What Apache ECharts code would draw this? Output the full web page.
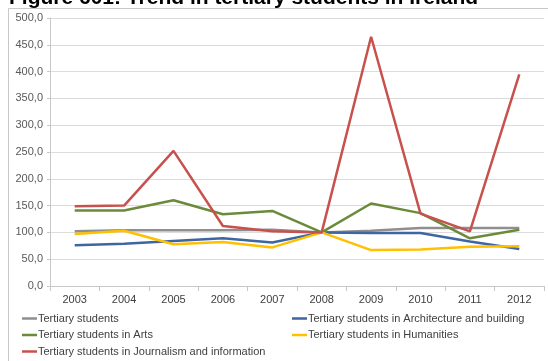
<!DOCTYPE html>
<html>
<head>
<meta charset="utf-8">
<script src="https://cdn.jsdelivr.net/npm/echarts@6/dist/echarts.min.js"></script>
<style>html,body{margin:0;padding:0;background:#fff}#c{width:548px;height:361px}</style>
</head>
<body>
<div id="c"></div>
<script>
const years = ['2003','2004','2005','2006','2007','2008','2009','2010','2011','2012'];
const yTicks = [0,50,100,150,200,250,300,350,400,450,500];
const tertiary = [102,104,104,104,105,100,103,108,108,108];
const architecture = [76,79,84,89,81,100,99,99,83,69];
const arts = [141,141,160,134,140,100,154,136,89,105];
const humanities = [97,103,78,82,72,100,67,68,73,74];
const journalism = [149,150,252,112,102,100,465,135,102,395];
const names = ['Tertiary students','Tertiary students in Architecture and building','Tertiary students in Arts','Tertiary students in Humanities','Tertiary students in Journalism and information'];
const colors = ['#8f8f8f','#3d66a3','#6b8a3a','#ffc000','#c8504d'];
const values = [tertiary, architecture, arts, humanities, journalism];

const legendPos = [[22,312],[292,312],[22,328.5],[292,328.5],[22,345]];
const chart = echarts.init(document.getElementById('c'));
chart.setOption({
  animation:false,
  backgroundColor:'#fff',
  graphic:[
    {type:'rect', shape:{x:8.5,y:8.5,width:600,height:400}, style:{fill:'none',stroke:'#c8c8c8',lineWidth:1}, z:-10},
    {type:'text', left:9, top:-12.5, style:{text:'Figure 601: Trend in tertiary students in Ireland', font:'bold 21px "Liberation Sans", Arial, sans-serif', fill:'#000'}}
  ],
  legend: names.map((n,i)=>({
    data:[n], left:legendPos[i][0], top:legendPos[i][1], padding:0,
    icon:'rect', itemWidth:15, itemHeight:2.5,
    textStyle:{fontSize:11, fontFamily:'"Liberation Sans", Arial, sans-serif', color:'#404040', lineHeight:13, padding:[0,0,0,-4]},
    selectedMode:false
  })),
  grid:{left:50, right:4, top:18, bottom:75, containLabel:false},
  xAxis:{
    type:'category', data:years, boundaryGap:true,
    axisLine:{lineStyle:{color:'#c8c8c8'}},
    axisTick:{show:true, length:5, lineStyle:{color:'#c8c8c8'}},
    axisLabel:{fontSize:11, fontFamily:'"Liberation Sans", Arial, sans-serif', color:'#404040', margin:8}
  },
  yAxis:{
    type:'value', min:yTicks[0], max:yTicks[yTicks.length-1], interval:50,
    axisLine:{show:true, lineStyle:{color:'#c8c8c8'}},
    axisTick:{show:true, length:3, lineStyle:{color:'#c8c8c8'}},
    splitLine:{lineStyle:{color:'#dcdcdc'}},
    axisLabel:{fontSize:11, fontFamily:'"Liberation Sans", Arial, sans-serif', color:'#595959', margin:7,
      formatter:v=>v.toFixed(1).replace('.',',')}
  },
  series: names.map((n,i)=>({
    name:n, type:'line', data:values[i], symbol:'none', smooth:false,
    lineStyle:{color:colors[i], width:2.5}, itemStyle:{color:colors[i]}, z:2+i
  }))
});
</script>
</body>
</html>
